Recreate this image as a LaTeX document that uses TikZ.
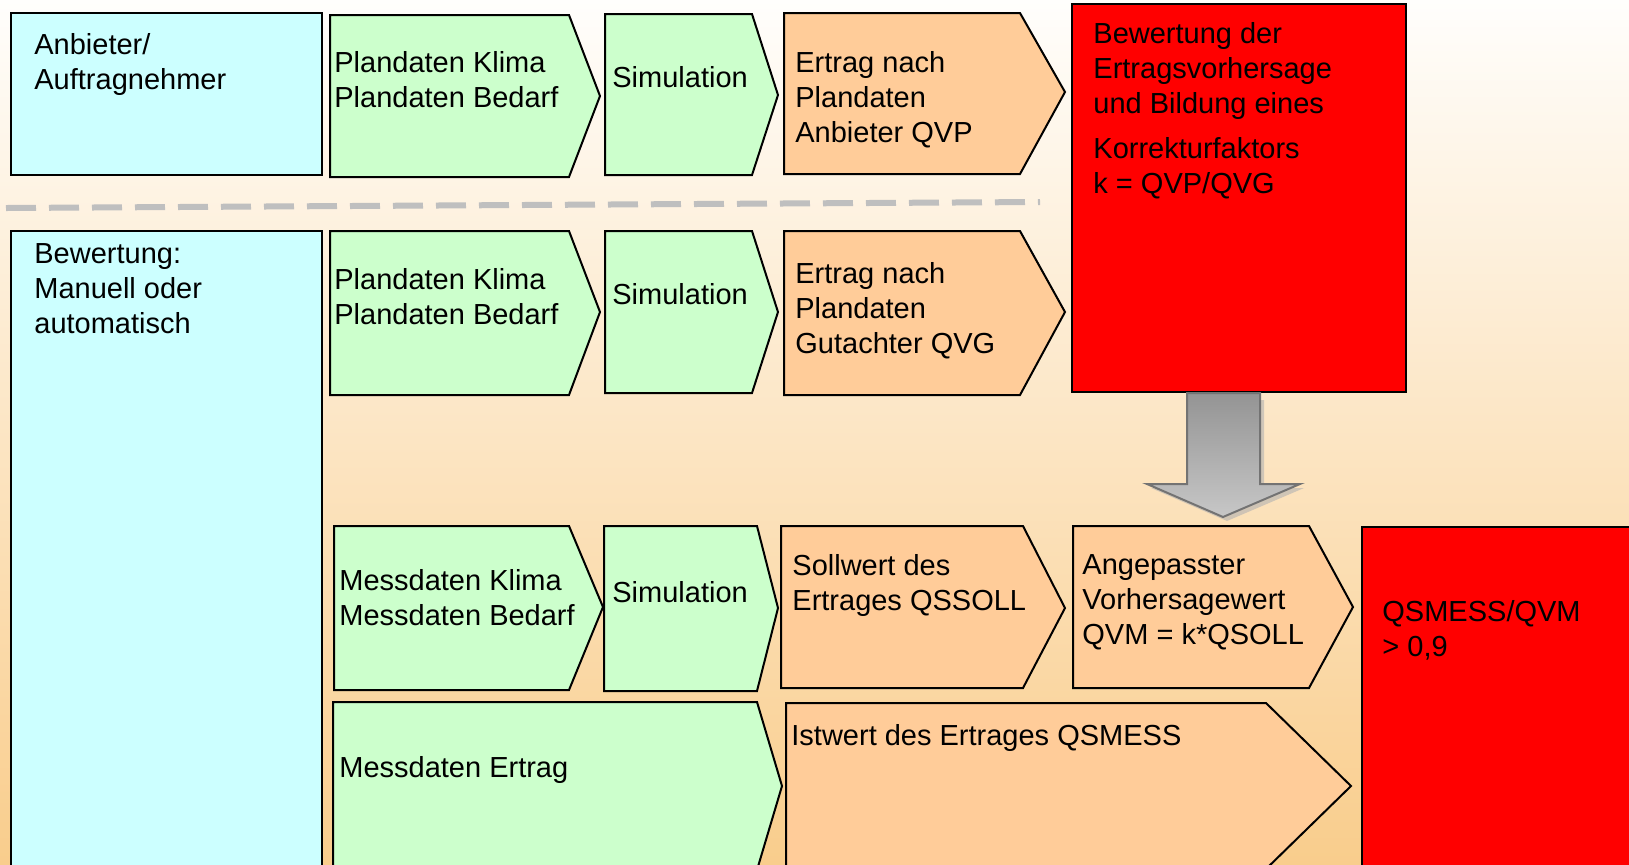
\documentclass[tikz,border=0pt]{standalone}
\usepackage{fontspec}
\setmainfont{Liberation Sans}

\definecolor{hellblau}{HTML}{CCFFFF}
\definecolor{hellgruen}{HTML}{CCFFCC}
\definecolor{hellorange}{HTML}{FFCC99}
\definecolor{rot}{HTML}{FF0000}
\definecolor{bgoben}{HTML}{FFFEFC}
\definecolor{bgmitte}{HTML}{FDEBD6}
\definecolor{bgunten}{HTML}{F9CD8C}

\tikzset{
  feld/.style={draw=black, line width=1pt},
  txt/.style={anchor=north west, inner sep=0pt, align=left,
    font=\fontsize{14.5}{17.5}\selectfont},
}

\begin{document}
\begin{tikzpicture}[x=0.5pt, y=-0.5pt]
  \useasboundingbox (0,0) rectangle (1629,864);
  \clip (0,0) rectangle (1629,864);
  \shade[top color=bgoben, middle color=bgmitte, bottom color=bgunten] (0,0) rectangle (1629,864);

  % Trennlinie
  \draw[line width=3pt, black!25, dash pattern=on 15pt off 6.5pt] (6,208) -- (1040,202);

  % Anbieter
  \filldraw[feld, fill=hellblau] (11,13) rectangle (322,175);
  \filldraw[feld, fill=hellgruen] (330,15) -- (569,15) -- (600,96) -- (569,177) -- (330,177) -- cycle;
  \filldraw[feld, fill=hellgruen] (605,14) -- (752,14) -- (778,95) -- (752,175) -- (605,175) -- cycle;
  \filldraw[feld, fill=hellorange] (784,13) -- (1020,13) -- (1065,92) -- (1020,174) -- (784,174) -- cycle;
  \filldraw[feld, fill=rot] (1072,4) rectangle (1406,392);

  % Gutachter
  \filldraw[feld, fill=hellblau] (11,231) rectangle (322,900);
  \filldraw[feld, fill=hellgruen] (330,231) -- (569,231) -- (600,312) -- (569,395) -- (330,395) -- cycle;
  \filldraw[feld, fill=hellgruen] (605,231) -- (752,231) -- (778,312) -- (752,393) -- (605,393) -- cycle;
  \filldraw[feld, fill=hellorange] (784,231) -- (1020,231) -- (1065,312) -- (1020,395) -- (784,395) -- cycle;

  % Pfeil
  \fill[black!30, opacity=0.6] (1191,400) -- (1264,400) -- (1264,488) -- (1304,488) -- (1227,521) -- (1151,488) -- (1191,488) -- cycle;
  \shade[top color=black!42, bottom color=black!22, draw=black!55, line width=1pt]
    (1187,393) -- (1260,393) -- (1260,484) -- (1300,484) -- (1223,517) -- (1147,484) -- (1187,484) -- cycle;

  % Messung
  \filldraw[feld, fill=hellgruen] (334,526) -- (569,526) -- (603,607) -- (569,690) -- (334,690) -- cycle;
  \filldraw[feld, fill=hellgruen] (604,526) -- (757,526) -- (778,608) -- (757,691) -- (604,691) -- cycle;
  \filldraw[feld, fill=hellorange] (781,526) -- (1023,526) -- (1065,608) -- (1023,688) -- (781,688) -- cycle;
  \filldraw[feld, fill=hellorange] (1073,526) -- (1309,526) -- (1353,607) -- (1309,688) -- (1073,688) -- cycle;
  \filldraw[feld, fill=rot] (1362,527) rectangle (1700,900);
  \filldraw[feld, fill=hellgruen] (333,702) -- (757,702) -- (782,786) -- (757,870) -- (333,870) -- cycle;
  \filldraw[feld, fill=hellorange] (786,703) -- (1266,703) -- (1351,786) -- (1266,869) -- (786,869) -- cycle;

  % Texte
  \node[txt] (anbieter) at (34,33) {Anbieter/\\Auftragnehmer};
  \node[txt] (plan1) at (334,51) {Plandaten Klima\\Plandaten Bedarf};
  \node[txt] (sim1) at (612,66) {Simulation};
  \node[txt] (ertrag1) at (795,51) {Ertrag nach\\Plandaten\\Anbieter QVP};
  \node[txt] (korrektur) at (1093,22) {Bewertung der\\Ertragsvorhersage\\und Bildung eines\\[5pt]Korrekturfaktors\\k = QVP/QVG};
  \node[txt] (bewertung) at (34,243) {Bewertung:\\Manuell oder\\automatisch};
  \node[txt] (plan2) at (334,268) {Plandaten Klima\\Plandaten Bedarf};
  \node[txt] (sim2) at (612,283) {Simulation};
  \node[txt] (ertrag2) at (795,262) {Ertrag nach\\Plandaten\\Gutachter QVG};
  \node[txt] (mess1) at (339,569) {Messdaten Klima\\Messdaten Bedarf};
  \node[txt] (sim3) at (612,581) {Simulation};
  \node[txt] (soll) at (792,554) {Sollwert des\\Ertrages QSSOLL};
  \node[txt] (angepasst) at (1082,554) {Angepasster\\Vorhersagewert\\QVM = k*QSOLL};
  \node[txt] (pruefung) at (1382,600) {QSMESS/QVM\\> 0,9};
  \node[txt] (messertrag) at (339,756) {Messdaten Ertrag};
  \node[txt] (istwert) at (791,724) {Istwert des Ertrages QSMESS};
\end{tikzpicture}
\end{document}
